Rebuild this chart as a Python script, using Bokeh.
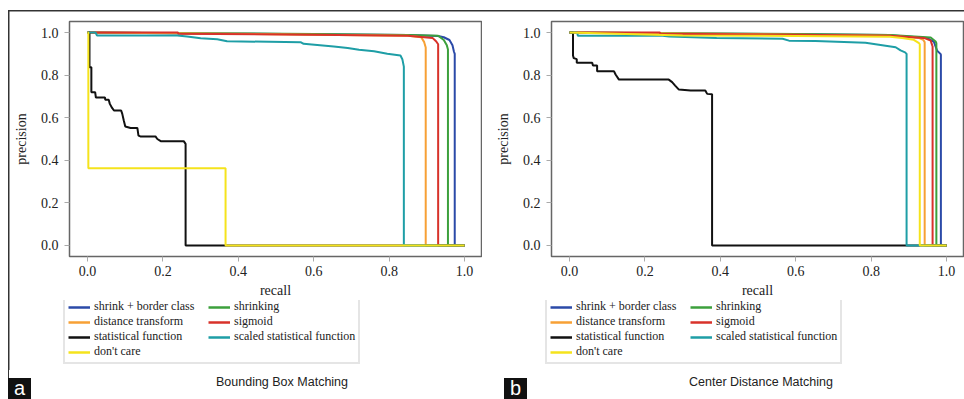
from bokeh.plotting import figure
from bokeh.models import Legend, LegendItem, FixedTicker, Div
from bokeh.layouts import row, column
from bokeh.embed import file_html
from bokeh.resources import INLINE

# ---------------- data ----------------
series_names = ["shrink + border class", "shrinking", "distance transform", "sigmoid",
                "statistical function", "scaled statistical function", "don't care"]
series_colors = ["#2b4aa8", "#3ca03c", "#f7a035", "#d8322a", "#111111", "#1e9ea6", "#f5e31c"]

tick_values = [0.0, 0.2, 0.4, 0.6, 0.8, 1.0]
tick_labels = ["0.0", "0.2", "0.4", "0.6", "0.8", "1.0"]

# Panel a: Bounding Box Matching
bb_blue_r = [0.0, 0.30, 0.60, 0.85, 0.93, 0.945, 0.96, 0.968, 0.972, 0.974, 0.974, 1.0]
bb_blue_p = [1.0, 0.996, 0.992, 0.988, 0.984, 0.978, 0.965, 0.94, 0.91, 0.90, 0.0, 0.0]
bb_green_r = [0.0, 0.30, 0.60, 0.85, 0.93, 0.945, 0.953, 0.956, 0.956, 1.0]
bb_green_p = [1.0, 0.997, 0.993, 0.989, 0.985, 0.965, 0.94, 0.92, 0.0, 0.0]
bb_orange_r = [0.0, 0.30, 0.60, 0.85, 0.885, 0.893, 0.897, 0.897, 1.0]
bb_orange_p = [1.0, 0.996, 0.99, 0.985, 0.978, 0.955, 0.93, 0.0, 0.0]
bb_red_r = [0.0, 0.24, 0.24, 0.60, 0.85, 0.915, 0.925, 0.93, 0.93, 1.0]
bb_red_p = [1.0, 1.0, 0.995, 0.99, 0.985, 0.975, 0.958, 0.945, 0.0, 0.0]
bb_black_r = [0.0, 0.005, 0.005, 0.010, 0.010, 0.020, 0.022, 0.046, 0.047, 0.056, 0.059, 0.065,
              0.070, 0.089, 0.092, 0.096, 0.100, 0.114, 0.132, 0.135, 0.140, 0.180, 0.185,
              0.194, 0.255, 0.260, 0.260, 1.0]
bb_black_p = [1.0, 1.0, 0.837, 0.837, 0.72, 0.72, 0.695, 0.695, 0.684, 0.684, 0.665, 0.646,
              0.634, 0.634, 0.618, 0.587, 0.559, 0.552, 0.552, 0.516, 0.512, 0.512, 0.50,
              0.49, 0.49, 0.477, 0.0, 0.0]
bb_teal_r = [0.0, 0.021, 0.025, 0.238, 0.264, 0.30, 0.344, 0.37, 0.565, 0.573, 0.653, 0.69,
             0.72, 0.76, 0.795, 0.83, 0.835, 0.839, 0.839, 1.0]
bb_teal_p = [1.0, 1.0, 0.986, 0.986, 0.981, 0.973, 0.969, 0.959, 0.955, 0.947, 0.935, 0.928,
             0.919, 0.912, 0.90, 0.892, 0.875, 0.84, 0.0, 0.0]
bb_yellow_r = [0.0, 0.002, 0.002, 0.366, 0.366, 1.0]
bb_yellow_p = [1.0, 1.0, 0.363, 0.363, 0.0, 0.0]

# Panel b: Center Distance Matching
cd_blue_r = [0.0, 0.30, 0.60, 0.85, 0.949, 0.966, 0.975, 0.984, 0.985, 0.985, 1.0]
cd_blue_p = [1.0, 0.996, 0.992, 0.988, 0.974, 0.958, 0.915, 0.90, 0.895, 0.0, 0.0]
cd_green_r = [0.0, 0.30, 0.60, 0.85, 0.958, 0.971, 0.973, 0.973, 1.0]
cd_green_p = [1.0, 0.997, 0.993, 0.989, 0.977, 0.958, 0.95, 0.0, 0.0]
cd_orange_r = [0.0, 0.30, 0.60, 0.85, 0.926, 0.938, 0.942, 0.942, 1.0]
cd_orange_p = [1.0, 0.996, 0.99, 0.985, 0.975, 0.966, 0.955, 0.0, 0.0]
cd_red_r = [0.0, 0.24, 0.24, 0.60, 0.85, 0.94, 0.958, 0.962, 0.963, 0.963, 1.0]
cd_red_p = [1.0, 1.0, 0.995, 0.99, 0.985, 0.975, 0.962, 0.94, 0.935, 0.0, 0.0]
cd_black_r = [0.0, 0.009, 0.009, 0.011, 0.019, 0.019, 0.060, 0.062, 0.073, 0.073, 0.118, 0.122,
              0.131, 0.263, 0.272, 0.280, 0.290, 0.321, 0.360, 0.365, 0.378, 0.378, 1.0]
cd_black_p = [1.0, 1.0, 0.892, 0.88, 0.875, 0.858, 0.858, 0.845, 0.845, 0.818, 0.818, 0.803,
              0.779, 0.779, 0.767, 0.751, 0.732, 0.728, 0.728, 0.712, 0.71, 0.0, 0.0]
cd_teal_r = [0.0, 0.02, 0.022, 0.247, 0.264, 0.39, 0.565, 0.582, 0.652, 0.785, 0.865, 0.878,
             0.89, 0.894, 0.894, 1.0]
cd_teal_p = [1.0, 1.0, 0.985, 0.985, 0.981, 0.975, 0.971, 0.962, 0.96, 0.952, 0.931, 0.916,
             0.907, 0.90, 0.0, 0.0]
cd_yellow_r = [0.0, 0.30, 0.60, 0.85, 0.882, 0.913, 0.927, 0.929, 0.929, 1.0]
cd_yellow_p = [1.0, 0.986, 0.984, 0.98, 0.975, 0.966, 0.95, 0.945, 0.0, 0.0]

panel_a = [(bb_blue_r, bb_blue_p), (bb_green_r, bb_green_p), (bb_orange_r, bb_orange_p),
           (bb_red_r, bb_red_p), (bb_black_r, bb_black_p), (bb_teal_r, bb_teal_p),
           (bb_yellow_r, bb_yellow_p)]
panel_b = [(cd_blue_r, cd_blue_p), (cd_green_r, cd_green_p), (cd_orange_r, cd_orange_p),
           (cd_red_r, cd_red_p), (cd_black_r, cd_black_p), (cd_teal_r, cd_teal_p),
           (cd_yellow_r, cd_yellow_p)]

SERIF = "Liberation Serif"
SANS = "Liberation Sans"
MAIN_H = 300
LEG_H = 70


def make_panel(curves, caption, tag, first):
    p = figure(width=482, height=MAIN_H,
               x_range=(-0.048, 1.045), y_range=(-0.052, 1.052),
               output_backend="svg", toolbar_location=None,
               min_border_left=69, min_border_right=1, min_border_top=21,
               min_border_bottom=MAIN_H - 256)
    p.xgrid.visible = False
    p.ygrid.visible = False
    p.outline_line_color = "#666666"
    p.outline_line_width = 1.5
    p.background_fill_color = "white"
    p.border_fill_alpha = 0.0
    if first:
        p.styles = {
            "background-color": "white",
            "background-image": "linear-gradient(#333,#333), linear-gradient(#333,#333)",
            "background-size": "474px 1.5px, 1.5px %dpx" % (MAIN_H - 10),
            "background-position": "8px 9.5px, 7.5px 10px",
            "background-repeat": "no-repeat",
        }
    else:
        p.styles = {
            "background-color": "white",
            "background-image": "linear-gradient(#333,#333)",
            "background-size": "482px 1.5px",
            "background-position": "0px 9.5px",
            "background-repeat": "no-repeat",
        }
    for ax in (p.xaxis[0], p.yaxis[0]):
        ax.ticker = FixedTicker(ticks=tick_values)
        ax.major_label_overrides = {v: l for v, l in zip(tick_values, tick_labels)}
        ax.axis_line_color = None
        ax.major_tick_line_color = "#aaaaaa"
        ax.major_tick_out = 5
        ax.major_tick_in = 0
        ax.minor_tick_line_color = None
        ax.major_label_text_font = SERIF
        ax.major_label_text_font_size = "14px"
        ax.major_label_text_color = "#222222"
        ax.axis_label_text_font = SERIF
        ax.axis_label_text_font_style = "normal"
        ax.axis_label_text_font_size = "14px"
        ax.axis_label_text_color = "#222222"
    p.xaxis.axis_label = "recall"
    p.yaxis.axis_label = "precision"
    p.xaxis.major_label_standoff = 4
    p.xaxis.axis_label_standoff = 4
    p.yaxis.major_label_standoff = 6
    p.yaxis.axis_label_standoff = 9

    for (r, pr), c in zip(curves, series_colors):
        p.line(r, pr, line_color=c, line_width=2)

    # legend strip: its own canvas so the legend is not clipped by the plot frame.
    # The key lines reuse the series data, drawn outside this strip's visible range.
    q = figure(width=482, height=LEG_H, x_range=(5, 6), y_range=(5, 6),
               x_axis_type=None, y_axis_type=None, output_backend="svg",
               toolbar_location=None, min_border=0, outline_line_color=None)
    q.border_fill_alpha = 0.0
    q.background_fill_alpha = 0.0
    if first:
        q.styles = {
            "background-color": "white",
            "background-image": "linear-gradient(#333,#333)",
            "background-size": "1.5px %dpx" % LEG_H,
            "background-position": "13.5px 0px",
            "background-repeat": "no-repeat",
            "transform": "translateX(-6px)",
        }
    else:
        q.styles = {"background-color": "white", "transform": "translateX(-6px)"}
    leg_renderers = [q.line(r, pr, line_color=c, line_width=2.5)
                     for (r, pr), c in zip(curves, series_colors)]
    order = [0, 2, 4, 6, 1, 3, 5]
    items = [LegendItem(label=series_names[i], renderers=[leg_renderers[i]]) for i in order]
    leg = Legend(items=items, location=(0, 6), nrows=4,
                 label_text_font=SERIF, label_text_font_size="12px",
                 label_text_color="#222222", label_width=114,
                 label_text_line_height=1.0,
                 glyph_width=22, glyph_height=12, label_height=12, label_standoff=4,
                 spacing=0, padding=3, margin=0,
                 border_line_color="#cccccc", border_line_width=2,
                 background_fill_color="white", background_fill_alpha=1.0)
    q.add_layout(leg, "center")

    bx = 8 if first else 22
    cx = 282 if first else 279
    line_part = ('<div style="position:absolute;left:7.5px;top:0px;width:1.5px;height:8px;'
                 'background:#333;"></div>') if first else ""
    html = (
        '<div style="position:relative;width:482px;height:29px;'
        'font-family:\'Liberation Sans\',Arial,sans-serif;">'
        + line_part +
        f'<div style="position:absolute;left:{bx}px;top:8px;width:23px;height:21px;'
        'background:#111;color:#fff;font-size:20px;line-height:20px;text-align:center;">'
        f'{tag}</div>'
        f'<div style="position:absolute;left:{cx - 150}px;top:5px;width:300px;'
        'text-align:center;font-size:12.5px;line-height:14px;color:#222;">'
        f'{caption}</div></div>'
    )
    foot = Div(text=html, width=482, height=29, margin=0)
    return column(p, q, foot, spacing=0)


pa = make_panel(panel_a, "Bounding Box Matching", "a", True)
pb = make_panel(panel_b, "Center Distance Matching", "b", False)
layout = row(pa, pb, spacing=0)

open("out.html", "w").write(file_html(layout, INLINE))
